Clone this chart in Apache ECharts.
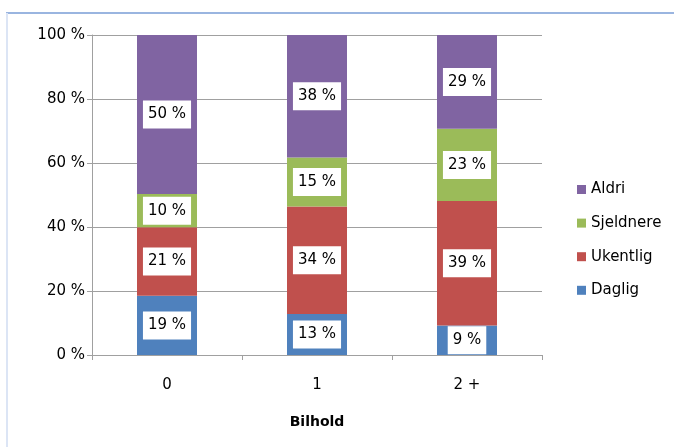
<!DOCTYPE html>
<html>
<head>
<meta charset="utf-8">
<script src="https://cdn.jsdelivr.net/npm/echarts@6/dist/echarts.min.js"></script>
<style>html,body{margin:0;padding:0;background:#fff;}#c{width:674px;height:447px;}</style>
</head>
<body>
<div id="c"></div>
<script>
const categories = ['0', '1', '2 +'];
const daglig = [18.5, 12.8, 9.2];
const ukentlig = [21.4, 33.6, 38.9];
const sjeldnere = [10.4, 15.3, 22.6];
const aldri = [49.7, 38.3, 29.3];
const yTicks = [0, 20, 40, 60, 80, 100];
const axisTitle = 'Bilhold';

const FONT = 'DejaVu Sans';
const chart = echarts.init(document.getElementById('c'), null, {renderer: 'canvas'});

function seriesOf(name, data, color) {
  return {
    name: name, type: 'bar', stack: 'all', data: data, barWidth: 60,
    itemStyle: {color: color},
    label: {
      show: true, position: 'inside',
      formatter: p => Math.round(p.value) + '\u00a0%',
      backgroundColor: '#ffffff', color: '#000', fontFamily: FONT, fontSize: 15,
      lineHeight: 16, padding: [6, 5, 6, 5]
    }
  };
}

chart.setOption({
  backgroundColor: '#ffffff',
  animation: false,
  graphic: [
    {type: 'line', shape: {x1: 6, y1: 13, x2: 680, y2: 13}, style: {stroke: '#9ab5e0', lineWidth: 2}},
    {type: 'line', shape: {x1: 7, y1: 13, x2: 7, y2: 447}, style: {
      stroke: new echarts.graphic.LinearGradient(0, 0, 0, 1, [{offset: 0, color: '#a3bce4'}, {offset: 1, color: '#dce5f5'}], true),
      lineWidth: 2}}
  ],
  grid: {left: 92, top: 35, right: 132, bottom: 92, containLabel: false},
  legend: {
    orient: 'vertical', left: 572, top: 176.5,
    data: ['Aldri', 'Sjeldnere', 'Ukentlig', 'Daglig'],
    itemWidth: 9, itemHeight: 9, itemGap: 17.6, icon: 'rect',
    textStyle: {fontFamily: FONT, fontSize: 15, color: '#000', lineHeight: 16}
  },
  xAxis: {
    type: 'category', data: categories,
    name: axisTitle, nameLocation: 'middle', nameGap: 60,
    nameTextStyle: {fontFamily: FONT, fontSize: 14, fontWeight: 'bold', color: '#000'},
    axisLine: {lineStyle: {color: '#a0a0a0', width: 1}},
    axisTick: {show: true, length: 5, lineStyle: {color: '#a0a0a0'}},
    axisLabel: {fontFamily: FONT, fontSize: 15, color: '#000', margin: 23}
  },
  yAxis: {
    type: 'value', min: yTicks[0], max: yTicks[yTicks.length - 1], interval: 20,
    axisLine: {show: true, lineStyle: {color: '#a0a0a0', width: 1}},
    axisTick: {show: true, length: 5, lineStyle: {color: '#a0a0a0'}},
    splitLine: {show: true, lineStyle: {color: '#a0a0a0', width: 1}},
    axisLabel: {fontFamily: FONT, fontSize: 15, color: '#000', margin: 7, padding: [4, 0, 0, 0], formatter: v => v + '\u00a0%'}
  },
  series: [
    seriesOf('Daglig', daglig, '#4f81bd'),
    seriesOf('Ukentlig', ukentlig, '#c0504d'),
    seriesOf('Sjeldnere', sjeldnere, '#9bbb59'),
    seriesOf('Aldri', aldri, '#8064a2')
  ]
});
</script>
</body>
</html>
